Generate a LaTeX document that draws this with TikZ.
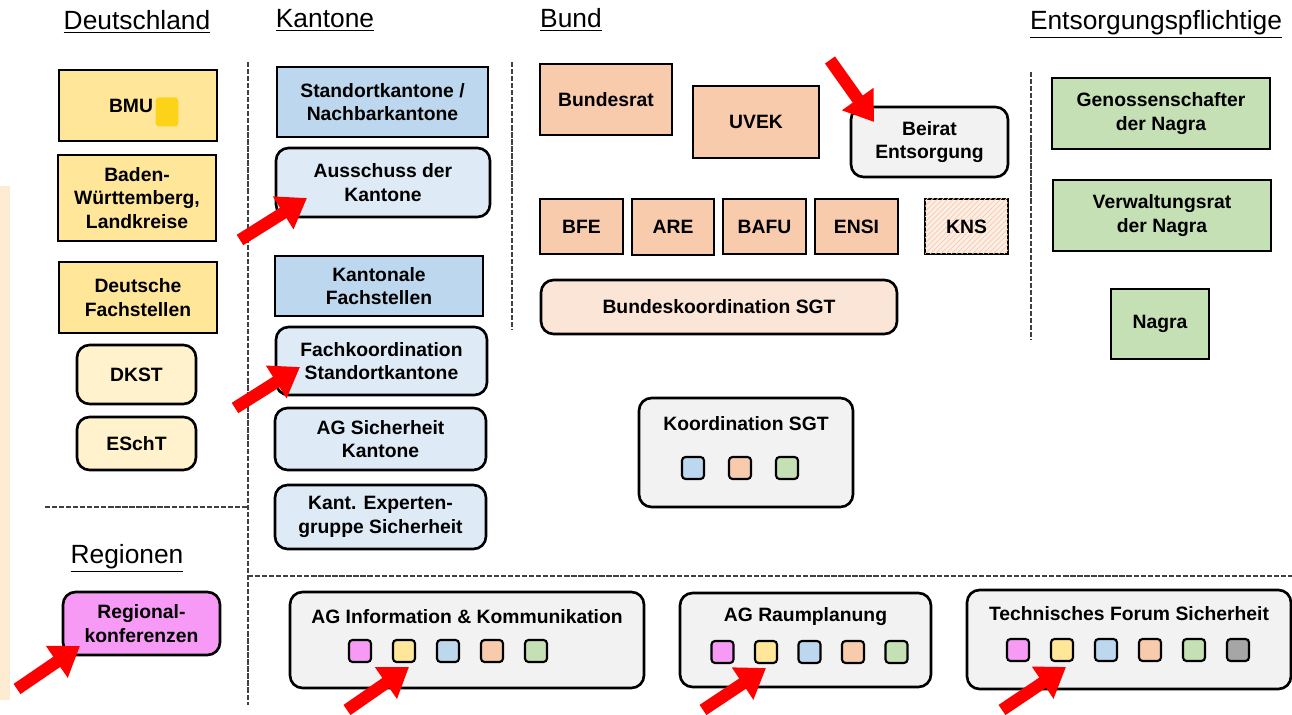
\documentclass[tikz,border=0pt]{standalone}
\usepackage{fontspec}
\setmainfont{Liberation Sans}
\usepackage{xcolor}
\usetikzlibrary{positioning,arrows.meta,patterns}

\definecolor{gelb}{HTML}{FFE699}
\definecolor{hellgelb}{HTML}{FFF2CC}
\definecolor{signalgelb}{HTML}{FDD31A}
\definecolor{blau}{HTML}{BDD7EE}
\definecolor{hellblau}{HTML}{DEEBF7}
\definecolor{lachs}{HTML}{F8CBAD}
\definecolor{helllachs}{HTML}{FBE5D6}
\definecolor{gruen}{HTML}{C5E0B4}
\definecolor{hellgrau}{HTML}{F2F2F2}
\definecolor{mittelgrau}{HTML}{A6A6A6}
\definecolor{pink}{HTML}{F69AF5}
\definecolor{streifen}{HTML}{FDEBD2}

\begin{document}
\begin{tikzpicture}[
    x=0.02cm, y=-0.02cm,
    box/.style={rectangle, draw, line width=1.5pt, align=center, inner sep=2pt,
        font=\bfseries\fontsize{11}{13.5}\selectfont},
    rbox/.style={box, rounded corners=0.25cm},
    head/.style={inner sep=0pt, font=\fontsize{15}{18}\selectfont},
    marker/.style={draw, line width=1.2pt, rounded corners=2pt, minimum size=0.44cm, inner sep=0pt},
    trenn/.style={dash pattern=on 3pt off 1pt, line width=1pt, black!75},
    pfeil/.style={-{Triangle[length=16pt,width=21pt]}, draw=red, line width=7pt}
]
    \useasboundingbox (0,0) rectangle (1292,715);
    \fill[streifen] (0,186) rectangle (10,700);

    % Trennlinien
    \draw[trenn] (248,62) -- (248,705);
    \draw[trenn] (512,62) -- (512,330);
    \draw[trenn] (1031,72) -- (1031,340);
    \draw[trenn] (45,507) -- (248,507);
    \draw[trenn] (248,576) -- (1292,576);

    % Ueberschriften
    \node[head] (h-de) at (137,22) {\underline{Deutschland}};
    \node[head] (h-ka) at (325,20) {\underline{Kantone}};
    \node[head] (h-bu) at (571,20) {\underline{Bund}};
    \node[head] (h-en) at (1156,24) {\underline{Entsorgungspflichtige}};
    \node[head] (h-re) at (127,558) {\underline{Regionen}};

    % Deutschland
    \node[box, fill=gelb, minimum width=3.16cm, minimum height=1.42cm] (bmu) at (138,105.5) {BMU\phantom{B}};
    \node[fill=signalgelb, rounded corners=2pt, minimum width=0.46cm, minimum height=0.58cm, inner sep=0pt] (bmu-q) at (167,112) {};
    \node[box, fill=gelb, minimum width=3.16cm, minimum height=1.72cm] (bw) at (137,198) {Baden-\\Württemberg,\\Landkreise};
    \node[box, fill=gelb, minimum width=3.16cm, minimum height=1.42cm] (dfs) at (138,297.5) {Deutsche\\Fachstellen};
    \node[rbox, fill=hellgelb, minimum width=2.38cm, minimum height=1.18cm] (dkst) at (136.5,374.5) {DKST};
    \node[rbox, fill=hellgelb, minimum width=2.38cm, minimum height=1.06cm] (escht) at (136.5,443.5) {ESchT};

    % Regionen
    \node[rbox, fill=pink, minimum width=3.14cm, minimum height=1.26cm] (reg) at (141.5,623.5) {Regional-\\konferenzen};

    % Kantone
    \node[box, fill=blau, minimum width=4.22cm, minimum height=1.4cm] (sk) at (382.5,102) {Standortkantone /\\Nachbarkantone};
    \node[rbox, fill=hellblau, minimum width=4.28cm, minimum height=1.38cm] (aus) at (383,182.5) {Ausschuss der\\Kantone};
    \node[box, fill=blau, minimum width=4.16cm, minimum height=1.2cm] (kf) at (379,286) {Kantonale\\Fachstellen};
    \node[rbox, fill=hellblau, minimum width=4.22cm, minimum height=1.36cm] (fk) at (381.5,361) {Fachkoordination\\Standortkantone};
    \node[rbox, fill=hellblau, minimum width=4.22cm, minimum height=1.24cm] (ags) at (380.5,439) {AG Sicherheit\\Kantone};
    \node[rbox, fill=hellblau, minimum width=4.22cm, minimum height=1.28cm] (keg) at (380.5,517) {Kant. Experten-\\gruppe Sicherheit};

    % Bund
    \node[box, fill=lachs, minimum width=2.64cm, minimum height=1.42cm] (br) at (606,99.5) {Bundesrat};
    \node[box, fill=lachs, minimum width=2.52cm, minimum height=1.44cm] (uvek) at (756,122) {UVEK};
    \node[rbox, fill=hellgrau, minimum width=3.14cm, minimum height=1.4cm] (beirat) at (929.5,142) {Beirat\\Entsorgung};
    \node[box, fill=lachs, minimum width=1.66cm, minimum height=1.1cm] (bfe) at (581.5,226.5) {BFE};
    \node[box, fill=lachs, minimum width=1.64cm, minimum height=1.12cm] (are) at (673,227) {ARE};
    \node[box, fill=lachs, minimum width=1.66cm, minimum height=1.1cm] (bafu) at (764.5,226.5) {BAFU};
    \node[box, fill=lachs, minimum width=1.66cm, minimum height=1.1cm] (ensi) at (856.5,226.5) {ENSI};
    \node[box, fill=helllachs!60, postaction={pattern=north east lines, pattern color=lachs},
        minimum width=1.66cm, minimum height=1.1cm] (kns) at (966.5,226.5) {KNS};
    \node[rbox, fill=helllachs, minimum width=7.12cm, minimum height=1.08cm] (bk) at (719,307) {Bundeskoordination SGT};

    % Koordination SGT
    \node[rbox, fill=hellgrau, minimum width=4.28cm, minimum height=2.18cm] (ksgt) at (746,452.5) {};
    \node[box, draw=none] (ksgt-t) at (746,424) {Koordination SGT};
    \foreach \c [count=\i] in {blau,lachs,gruen}
        \node[marker, fill=\c] (ksgt-\i) at ({646+47*\i},468) {};

    % Entsorgungspflichtige
    \node[box, fill=gruen, minimum width=4.36cm, minimum height=1.42cm] (gen) at (1161,113.5) {Genossenschafter\\der Nagra};
    \node[box, fill=gruen, minimum width=4.36cm, minimum height=1.42cm] (vr) at (1162,215.5) {Verwaltungsrat\\der Nagra};
    \node[box, fill=gruen, minimum width=1.96cm, minimum height=1.4cm] (nagra) at (1160,324) {Nagra};

    % Arbeitsgruppen
    \node[rbox, fill=hellgrau, minimum width=7.08cm, minimum height=1.92cm] (agik) at (467,640) {};
    \node[box, draw=none] (agik-t) at (467,617) {AG Information \& Kommunikation};
    \foreach \c [count=\i] in {pink,gelb,blau,lachs,gruen}
        \node[marker, fill=\c] (agik-\i) at ({316+44*\i},651) {};

    \node[rbox, fill=hellgrau, minimum width=5.02cm, minimum height=1.88cm] (agr) at (805.5,640) {};
    \node[box, draw=none] (agr-t) at (805.5,617) {AG Raumplanung};
    \foreach \c [count=\i] in {pink,gelb,blau,lachs,gruen}
        \node[marker, fill=\c] (agr-\i) at ({679+43.5*\i},652) {};

    \node[rbox, fill=hellgrau, minimum width=6.48cm, minimum height=1.98cm] (tfs) at (1129,639.5) {};
    \node[box, draw=none] (tfs-t) at (1129,614) {Technisches Forum Sicherheit};
    \foreach \c [count=\i] in {pink,gelb,blau,lachs,gruen,mittelgrau}
        \node[marker, fill=\c] (tfs-\i) at ({974+44*\i},650) {};

    % Hinweispfeile
    \coordinate (p-aus) at (240,240);
    \coordinate (p-fk) at (235,408);
    \coordinate (p-reg) at (17,689);
    \coordinate (p-agik) at (347,710);
    \coordinate (p-agr) at (703,710);
    \coordinate (p-tfs) at (1002,710);
    \coordinate (p-beirat) at (830,60);
    \coordinate (z-aus) at (307,198);
    \coordinate (z-fk) at (300,367);
    \coordinate (z-reg) at (80,646);
    \coordinate (z-agik) at (409,667);
    \coordinate (z-agr) at (766,668);
    \coordinate (z-tfs) at (1066,667);
    \coordinate (z-beirat) at (874,122);
    \foreach \n in {aus,fk,reg,agik,agr,tfs,beirat}
        \draw[pfeil] (p-\n) -- (z-\n);
\end{tikzpicture}
\end{document}
